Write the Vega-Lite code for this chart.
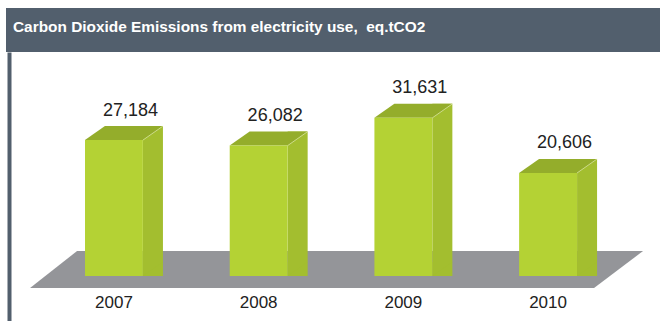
{
  "$schema": "https://vega.github.io/schema/vega-lite/v6.json",
  "background": "white",
  "padding": {"left": 6, "top": 8, "right": 0, "bottom": 0},
  "spacing": 0,
  "config": {"view": {"stroke": null}, "font": "Liberation Sans"},
  "datasets": {
    "emissions": [
      {"year": "2007", "value": 27184},
      {"year": "2008", "value": 26082},
      {"year": "2009", "value": 31631},
      {"year": "2010", "value": 20606}
    ]
  },
  "vconcat": [
    {
      "width": 654,
      "height": 44,
      "view": {"fill": "#525f6d", "stroke": null},
      "title": {
        "text": "Carbon Dioxide Emissions from electricity use,\u00a0 eq.tCO2",
        "anchor": "start",
        "orient": "top",
        "frame": "group",
        "offset": -39,
        "dx": 7,
        "baseline": "alphabetic",
        "color": "#ffffff",
        "font": "Liberation Sans",
        "fontSize": 15.4,
        "fontWeight": "bold"
      },
      "data": {"values": [{}]},
      "mark": {"type": "point", "opacity": 0}
    },
    {
      "width": 654,
      "height": 269,
      "data": {"name": "emissions"},
      "encoding": {
        "x": {
          "field": "year",
          "type": "nominal",
          "scale": {"paddingInner": 0.6, "paddingOuter": 0.5598, "align": 0.4877},
          "axis": {
            "orient": "bottom",
            "offset": -24,
            "domain": false,
            "ticks": false,
            "grid": false,
            "title": null,
            "labelAngle": 0,
            "labelPadding": 10,
            "labelBaseline": "alphabetic",
            "labelFont": "Liberation Sans",
            "labelFontSize": 17,
            "labelColor": "#222222"
          }
        },
        "y": {
          "field": "value",
          "type": "quantitative",
          "scale": {"domain": [-9000, 44800], "nice": false, "zero": false},
          "axis": {
            "orient": "left",
            "offset": -3,
            "domain": true,
            "domainColor": "#525f6d",
            "domainWidth": 4,
            "ticks": false,
            "labels": false,
            "grid": false,
            "title": null
          }
        }
      },
      "layer": [
        {
          "transform": [{"filter": "datum.year == '2008'"}],
          "mark": {"type": "point", "shape": "M -228.6 12 L 335.4 12 L 384.4 -25 L -181.6 -25 Z", "size": 4, "filled": true, "fill": "#949599", "opacity": 1, "strokeWidth": 0},
          "encoding": {"y": {"datum": 0}}
        },
        {
          "mark": {"type": "bar", "width": 20, "xOffset": 39, "yOffset": -14, "fill": "#a3be2f"},
          "encoding": {"y2": {"datum": 0}}
        },
        {
          "mark": {"type": "point", "shape": "M 29 -14 L 49 -14 L 29 0 Z", "size": 4, "filled": true, "fill": "#a3be2f", "opacity": 1, "strokeWidth": 0},
          "encoding": {"y": {"datum": 0}}
        },
        {
          "mark": {"type": "point", "shape": "M -29 0 L 29 0 L 49 -14 L -9 -14 Z", "size": 4, "filled": true, "fill": "#94ad2b", "opacity": 1, "strokeWidth": 0}
        },
        {
          "mark": {"type": "point", "shape": "M 29 0 L 49 -14", "size": 4, "filled": false, "stroke": "#e8f0c0", "strokeWidth": 0.8, "opacity": 0.8}
        },
        {
          "mark": {"type": "bar", "fill": "#b4d234"},
          "encoding": {"y2": {"datum": 0}}
        },
        {
          "mark": {"type": "text", "dx": 16.5, "dy": -24.5, "baseline": "alphabetic", "align": "center", "font": "Liberation Sans", "fontSize": 18, "fill": "#222222"},
          "encoding": {"text": {"field": "value", "type": "quantitative", "format": ","}}
        }
      ]
    }
  ]
}
